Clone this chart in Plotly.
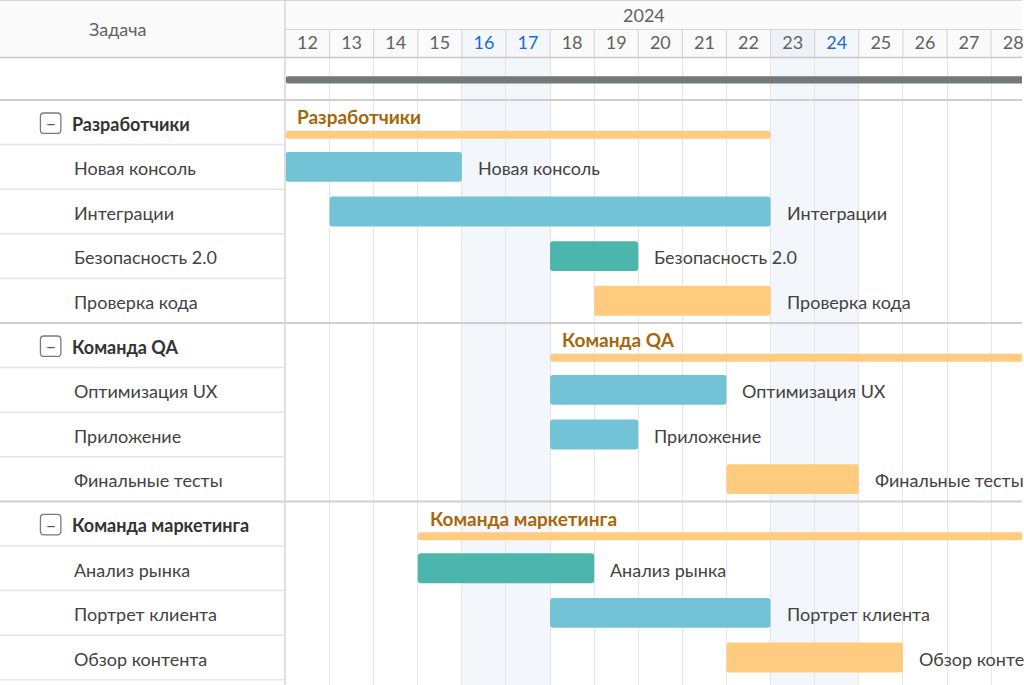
import plotly.graph_objects as go

# canvas / layout in pixels
W, H = 1024, 685
LEFT = 286        # where the timeline starts
HEAD = 58         # header height
ROW0 = 100        # top of first task row
ROW_H = 44.6
COL_W = 44.19

year = "2024"
days = list(range(12, 29))
weekend_days = [16, 17, 23, 24]
blue_days = [16, 17, 24]

groups = ["Разработчики", "Команда QA", "Команда маркетинга"]
group_start = [12, 18, 15]
group_end = [23, 30, 30]

task_names = [
    "Новая консоль", "Интеграции", "Безопасность 2.0", "Проверка кода",
    "Оптимизация UX", "Приложение", "Финальные тесты",
    "Анализ рынка", "Портрет клиента", "Обзор контента",
]
task_group = [0, 0, 0, 0, 1, 1, 1, 2, 2, 2]
task_start = [12, 13, 18, 19, 18, 18, 22, 15, 18, 22]
task_end = [16, 23, 20, 23, 22, 20, 25, 19, 23, 26]
task_kind = ["blue", "blue", "green", "orange", "blue", "blue", "orange",
             "green", "blue", "orange"]

summary_start, summary_end = 12, 30

colors = {"blue": "#72c3d5", "green": "#4db6ac", "orange": "#ffcb7f"}
FONT = "Lato"
TXT = "#424242"
FS = 18

# row index for every group / task
group_row = []
task_row = []
r = 0
for g in range(len(groups)):
    group_row.append(r)
    r += 1
    for i, tg in enumerate(task_group):
        if tg == g:
            task_row.append(r)
            r += 1
n_rows = r


def py(px):
    return 1 - px / H


def rounded_box(x0, x1, yc, half_h, rx, ry):
    # rounded rect path, x in paper units, y in row units
    y0, y1 = yc - half_h, yc + half_h
    return (f"M{x0 + rx},{y0} L{x1 - rx},{y0} Q{x1},{y0} {x1},{y0 + ry} "
            f"L{x1},{y1 - ry} Q{x1},{y1} {x1 - rx},{y1} L{x0 + rx},{y1} "
            f"Q{x0},{y1} {x0},{y1 - ry} L{x0},{y0 + ry} Q{x0},{y0} {x0 + rx},{y0} Z")


fig = go.Figure()

# summary bar
fig.add_trace(go.Bar(
    y=[-0.45], x=[summary_end - summary_start], base=[summary_start],
    orientation="h", width=0.16, marker=dict(color="#737878", line_width=0),
    hoverinfo="skip", showlegend=False,
))

# group bars
fig.add_trace(go.Bar(
    y=[g + 0.78 for g in group_row],
    x=[e - s for s, e in zip(group_start, group_end)],
    base=group_start, orientation="h", width=0.18,
    marker=dict(color="#ffcb7f", line_width=0),
    hovertext=groups, hoverinfo="text", showlegend=False,
))

# task bars
fig.add_trace(go.Bar(
    y=[t + 0.5 for t in task_row],
    x=[e - s for s, e in zip(task_start, task_end)],
    base=task_start, orientation="h", width=0.67,
    marker=dict(color=[colors[k] for k in task_kind], line_width=0),
    hovertext=task_names, hoverinfo="text", showlegend=False,
))

shapes = []
# header background
shapes.append(dict(type="rect", xref="paper", yref="paper", x0=0, x1=1,
                   y0=py(HEAD), y1=1, fillcolor="#fafafa", line_width=0, layer="below"))
# weekend shading (body + header day cells)
for d in weekend_days:
    shapes.append(dict(type="rect", xref="x", yref="paper", x0=d, x1=d + 1,
                       y0=0, y1=py(HEAD), fillcolor="#f3f6fb", line_width=0, layer="below"))
    shapes.append(dict(type="rect", xref="x", yref="paper", x0=d, x1=d + 1,
                       y0=py(HEAD), y1=py(30), fillcolor="#eef2f8" if d == 23 else "#f3f6fb",
                       line_width=0, layer="below"))
# day header separators
for d in days:
    shapes.append(dict(type="line", xref="x", yref="paper", x0=d, x1=d,
                       y0=py(30), y1=py(HEAD), line=dict(color="#d2d2d2", width=1)))
# header horizontal lines
shapes.append(dict(type="line", xref="paper", yref="paper", x0=0, x1=1,
                   y0=py(0.5), y1=py(0.5), line=dict(color="#d6d6d6", width=1)))
shapes.append(dict(type="line", xref="paper", yref="paper", x0=LEFT / W, x1=1,
                   y0=py(29.5), y1=py(29.5), line=dict(color="#d6d6d6", width=1)))
shapes.append(dict(type="line", xref="paper", yref="paper", x0=0, x1=1,
                   y0=py(57.5), y1=py(57.5), line=dict(color="#c8c8c8", width=1.5)))
# row separators
for k in range(1, n_rows + 1):
    if k in group_row:
        continue
    shapes.append(dict(type="line", xref="paper", yref="y", x0=0, x1=(LEFT - 1) / W,
                       y0=k, y1=k, line=dict(color="#e4e4e4", width=1.5)))
for g in group_row:
    shapes.append(dict(type="line", xref="paper", yref="y", x0=0, x1=1,
                       y0=g, y1=g, line=dict(color="#cfcfcf", width=2)))
# left/right divider
shapes.append(dict(type="line", xref="paper", yref="paper", x0=(LEFT - 0.5) / W,
                   x1=(LEFT - 0.5) / W, y0=0, y1=1, line=dict(color="#d6d6d6", width=1.5)))
# collapse boxes
for g in group_row:
    shapes.append(dict(type="path", xref="paper", yref="y",
                       path=rounded_box(40.5 / W, 61 / W, g + 0.52, 10.2 / ROW_H,
                                        3.5 / W, 3.5 / ROW_H),
                       line=dict(color="#7a7a7a", width=1.3), fillcolor="white"))

annotations = []
annotations.append(dict(text="Задача", xref="paper", yref="paper", x=118 / W, y=py(29),
                        xanchor="center", yanchor="middle", showarrow=False,
                        font=dict(size=FS, color="#616161")))
annotations.append(dict(text=year, xref="paper", yref="paper", x=645 / W, y=py(15),
                        xanchor="center", yanchor="middle", showarrow=False,
                        font=dict(size=FS, color="#616161")))

for g, name in enumerate(groups):
    row = group_row[g]
    annotations.append(dict(text="−", xref="paper", yref="y", x=50.8 / W, y=row + 0.53,
                            xanchor="center", yanchor="middle", showarrow=False,
                            font=dict(size=17, color="#555555", family=FONT)))
    annotations.append(dict(text="<b>" + name + "</b>", xref="paper", yref="y", x=70 / W,
                            y=row + 0.54, xanchor="left", yanchor="middle", showarrow=False,
                            font=dict(size=FS, color="#333333", family=FONT)))
    # label above group bar
    annotations.append(dict(text="<b>" + name + "</b>", xref="x", yref="y", x=group_start[g],
                            y=row + 0.38, xanchor="left", yanchor="middle", xshift=10,
                            showarrow=False,
                            font=dict(size=19, color="#a6670a", family=FONT)))

for i, name in enumerate(task_names):
    row = task_row[i]
    annotations.append(dict(text=name, xref="paper", yref="y", x=72 / W, y=row + 0.53,
                            xanchor="left", yanchor="middle", showarrow=False,
                            font=dict(size=FS, color=TXT, family=FONT)))
    annotations.append(dict(text=name, xref="x", yref="y", x=task_end[i], y=row + 0.53,
                            xanchor="left", yanchor="middle", xshift=14, showarrow=False,
                            font=dict(size=FS, color=TXT, family=FONT)))

tick_text = []
for d in days:
    if d in blue_days:
        tick_text.append(f"<span style='color:#1f6bd0'>{d}</span>")
    else:
        tick_text.append(str(d))

fig.update_layout(
    width=W, height=H,
    margin=dict(l=0, r=0, t=0, b=0),
    paper_bgcolor="white",
    plot_bgcolor="rgba(0,0,0,0)",
    barmode="overlay",
    barcornerradius=3,
    font=dict(family=FONT, color="#616161"),
    shapes=shapes,
    annotations=annotations,
    xaxis=dict(
        domain=[LEFT / W, 1],
        range=[12, 12 + (W - LEFT) / COL_W],
        side="top",
        tickmode="array",
        tickvals=[d + 0.5 for d in days],
        ticktext=tick_text,
        tickfont=dict(size=FS, color="#616161"),
        ticks="",
        ticklabelstandoff=4,
        ticklabeloverflow="allow",
        showgrid=False,
        zeroline=False,
        showline=False,
        minor=dict(tick0=12, dtick=1, showgrid=True, gridcolor="#e6e6e6", gridwidth=1),
        fixedrange=True,
    ),
    yaxis=dict(
        domain=[0, py(HEAD)],
        range=[(H - ROW0) / ROW_H, (HEAD - ROW0) / ROW_H],
        showgrid=False, zeroline=False, showticklabels=False,
        fixedrange=True,
    ),
)

fig.write_html("out.html", config={"displayModeBar": False},
               post_script="document.body.style.margin='0';")
